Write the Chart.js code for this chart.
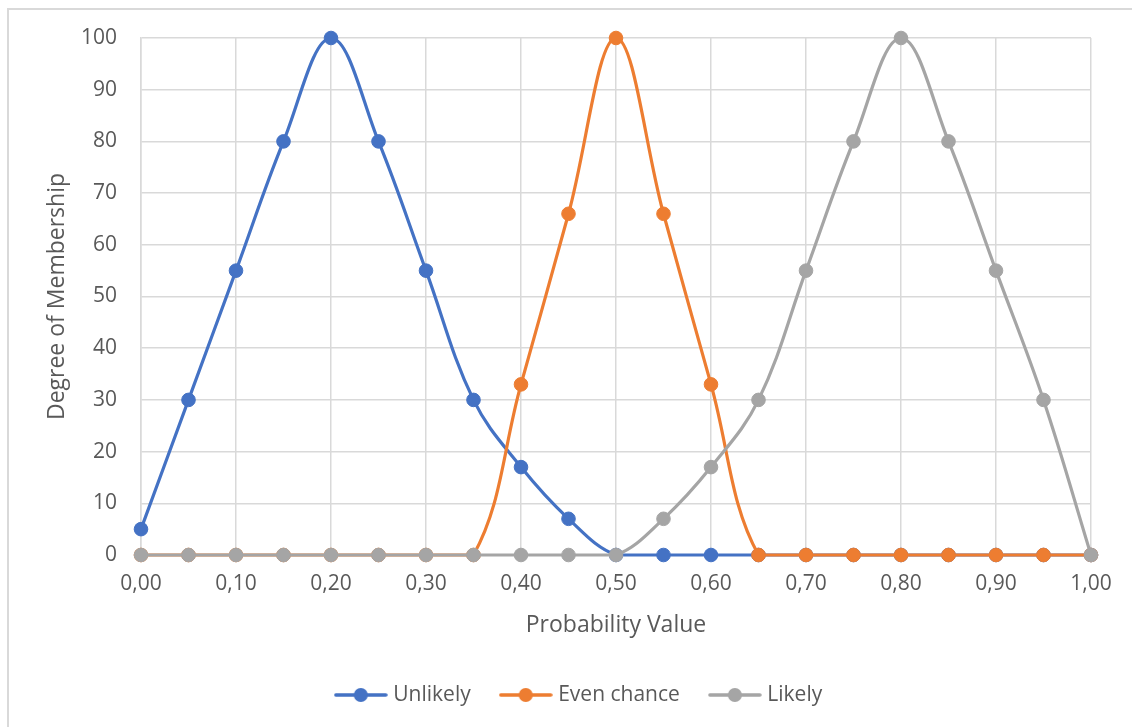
<!DOCTYPE html>
<html>
<head>
<meta charset="utf-8">
<title>Degree of Membership</title>
<script src="https://cdn.jsdelivr.net/npm/chart.js@4.4.1/dist/chart.umd.min.js"></script>
<style>
  html, body { margin: 0; padding: 0; background: #ffffff; overflow: hidden; }
  #wrap { position: relative; width: 1132px; height: 727px; }
  #frame { position: absolute; left: 7px; top: 8px; width: 1150px; height: 740px;
           border: 2px solid #d9d9d9; box-sizing: border-box; }
  #c { position: absolute; left: 0; top: 0; }
</style>
</head>
<body>
<div id="wrap">
  <div id="frame"></div>
  <canvas id="c" width="1132" height="727"></canvas>
</div>
<script>
// Probability values (x) and membership degrees (y) per fuzzy set
const probability = [0.00, 0.05, 0.10, 0.15, 0.20, 0.25, 0.30, 0.35, 0.40, 0.45, 0.50,
                     0.55, 0.60, 0.65, 0.70, 0.75, 0.80, 0.85, 0.90, 0.95, 1.00];
const unlikely    = [5, 30, 55, 80, 100, 80, 55, 30, 17, 7, 0, 0, 0, 0, 0, 0, 0, 0, 0, 0, 0];
const evenChance  = [0, 0, 0, 0, 0, 0, 0, 0, 33, 66, 100, 66, 33, 0, 0, 0, 0, 0, 0, 0, 0];
const likely      = [0, 0, 0, 0, 0, 0, 0, 0, 0, 0, 0, 7, 17, 30, 55, 80, 100, 80, 55, 30, 0];

const seriesNames  = ['Unlikely', 'Even chance', 'Likely'];
const seriesValues = [unlikely, evenChance, likely];
const seriesColors = ['#4472C4', '#ED7D31', '#A5A5A5'];

const xTitle = 'Probability Value';
const yTitle = 'Degree of Membership';

const FONT = '"Open Sans", "Noto Sans", sans-serif';
const TEXT = '#595959';
const GRID = '#d9d9d9';
const LEGEND_FONT = 21;
const LEGEND_PAD = 33;

// Legend symbol: short line with a round marker in the middle
function legendSymbol(color) {
  const cv = document.createElement('canvas');
  cv.width = 54; cv.height = 16;
  const g = cv.getContext('2d');
  g.strokeStyle = color; g.lineWidth = 3.5; g.lineCap = 'round';
  g.beginPath(); g.moveTo(2, 8); g.lineTo(52, 8); g.stroke();
  g.fillStyle = color;
  g.beginPath(); g.arc(27, 8, 7, 0, Math.PI * 2); g.fill();
  return cv;
}
const symbols = seriesColors.map(legendSymbol);

const datasets = seriesNames.map((name, i) => ({
  label: name,
  data: probability.map((x, k) => ({ x: x, y: seriesValues[i][k] })),
  borderColor: seriesColors[i],
  backgroundColor: seriesColors[i],
  pointBackgroundColor: seriesColors[i],
  pointBorderColor: seriesColors[i],
  borderWidth: 3.2,
  pointRadius: 6.8,
  pointBorderWidth: 1,
  tension: 0.38,
  clip: false,
  order: seriesNames.length - i   // later series are painted on top
}));

// Places the legend row below the axis title
const legendShift = {
  id: 'legendShift',
  afterLayout(chart) {
    const lg = chart.legend;
    const dx = 13;
    lg.left += dx; lg.right += dx;
    const h = lg.height;
    lg.top = 695 - LEGEND_PAD - LEGEND_FONT / 2;
    lg.bottom = lg.top + h;
  }
};

new Chart(document.getElementById('c'), {
  type: 'line',
  data: { datasets: datasets },
  plugins: [legendShift],
  options: {
    responsive: false,
    animation: false,
    devicePixelRatio: 1,
    layout: { padding: { left: 44, right: 41, top: 38, bottom: 24 } },
    plugins: {
      tooltip: { enabled: false },
      legend: {
        position: 'bottom',
        labels: {
          usePointStyle: true,
          pointStyleWidth: 44,
          padding: LEGEND_PAD,
          color: TEXT,
          font: { family: FONT, size: LEGEND_FONT },
          sort: (a, b) => a.datasetIndex - b.datasetIndex,
          generateLabels(chart) {
            const items = Chart.defaults.plugins.legend.labels.generateLabels(chart);
            items.forEach(it => { it.pointStyle = symbols[it.datasetIndex]; });
            return items;
          }
        }
      }
    },
    scales: {
      x: {
        type: 'linear',
        min: 0, max: 1,
        afterFit(s) { s.height = 84; },
        grid: { color: GRID, lineWidth: 1.5, drawTicks: false },
        border: { color: GRID, width: 1.5 },
        ticks: {
          stepSize: 0.1,
          padding: 16,
          color: TEXT,
          font: { family: FONT, size: 21 },
          maxRotation: 0,
          callback: v => v.toFixed(2).replace('.', ',')
        },
        title: { display: true, text: xTitle, color: TEXT,
                 font: { family: FONT, size: 23 }, padding: { top: 0, bottom: 0 } }
      },
      y: {
        min: 0, max: 100,
        afterFit(s) { s.width = 141 - 44; },
        grid: { color: GRID, lineWidth: 1.5, drawTicks: false },
        border: { color: GRID, width: 1.5 },
        ticks: {
          stepSize: 10,
          padding: 24,
          color: TEXT,
          font: { family: FONT, size: 21 }
        },
        title: { display: true, text: yTitle, color: TEXT,
                 font: { family: FONT, size: 23 }, padding: { top: 0, bottom: 0 } }
      }
    }
  }
});
</script>
</body>
</html>
